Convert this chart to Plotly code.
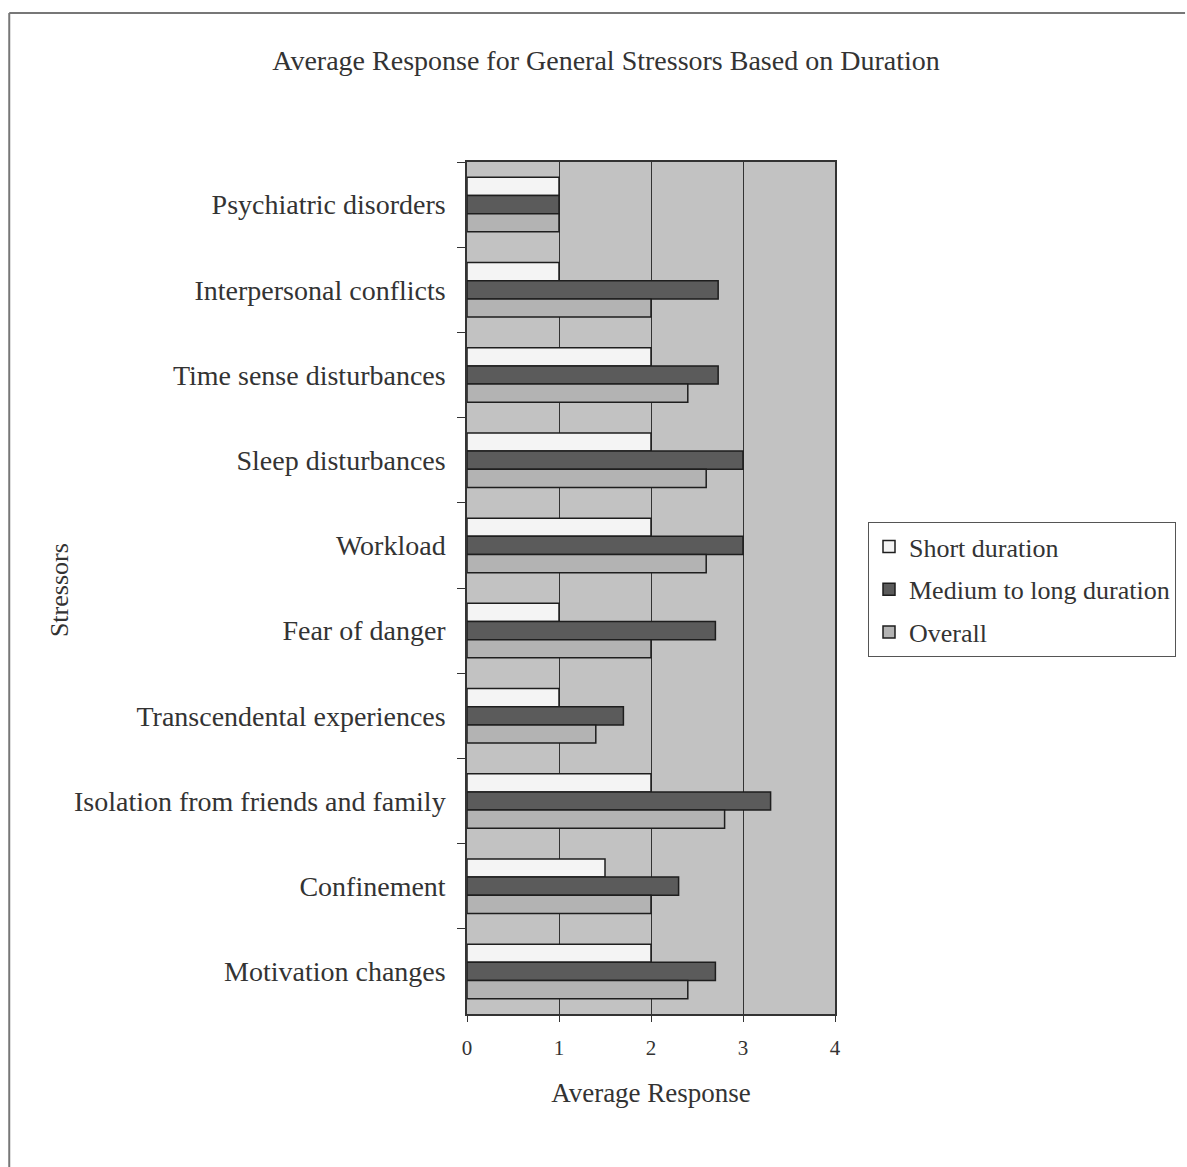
import plotly.graph_objects as go

# Stressor categories, top to bottom
stressors = [
    "Psychiatric disorders",
    "Interpersonal conflicts",
    "Time sense disturbances",
    "Sleep disturbances",
    "Workload",
    "Fear of danger",
    "Transcendental experiences",
    "Isolation from friends and family",
    "Confinement",
    "Motivation changes",
]

short_duration = [1.0, 1.0, 2.0, 2.0, 2.0, 1.0, 1.0, 2.0, 1.5, 2.0]
medium_long_duration = [1.0, 2.73, 2.73, 3.0, 3.0, 2.7, 1.7, 3.3, 2.3, 2.7]
overall = [1.0, 2.0, 2.4, 2.6, 2.6, 2.0, 1.4, 2.8, 2.0, 2.4]

series = [
    ("Short duration", short_duration, "#f4f4f4"),
    ("Medium to long duration", medium_long_duration, "#5b5b5b"),
    ("Overall", overall, "#b3b3b3"),
]

SERIF = "Liberation Serif, Times New Roman, serif"
INK = "#333333"

fig = go.Figure()
for name, vals, color in series:
    fig.add_trace(go.Bar(
        name=name,
        legendgroup=name,
        y=stressors,
        x=vals,
        orientation="h",
        marker=dict(color=color, line=dict(color="#1e1e1e", width=1.5)),
    ))

W, H = 1187, 1167
L, R, T, B = 467, 351, 162, 153
pw, ph = W - L - R, H - T - B

fig.update_layout(
    width=W,
    height=H,
    margin=dict(l=L, r=R, t=T, b=B),
    barmode="group",
    bargap=0.36,
    bargroupgap=0.0,
    paper_bgcolor="white",
    plot_bgcolor="#c2c2c2",
    font=dict(family=SERIF, color=INK, size=26),
    title=dict(
        text="Average Response for General Stressors Based on Duration",
        x=606 / W, xanchor="center",
        y=1 - 60 / H, yanchor="middle",
        font=dict(family=SERIF, size=28, color=INK),
    ),
    legend=dict(
        x=(868 - L) / pw, xanchor="left",
        y=(H - B - 522) / ph, yanchor="top",
        bgcolor="white",
        bordercolor="#555555",
        borderwidth=1,
        font=dict(family=SERIF, size=26, color=INK),
        traceorder="grouped",
        itemwidth=30,
        tracegroupgap=6,
    ),
    showlegend=True,
)

fig.update_xaxes(
    range=[0, 4],
    dtick=1,
    showgrid=True,
    gridcolor="#333333",
    gridwidth=1,
    zeroline=False,
    showline=True,
    linecolor="#333333",
    linewidth=1.5,
    mirror=True,
    ticks="outside",
    ticklen=6,
    tickcolor="#333333",
    ticklabelstandoff=8,
    tickfont=dict(family=SERIF, size=21, color=INK),
    title=dict(text="Average Response", font=dict(family=SERIF, size=27, color=INK), standoff=24),
)

fig.update_yaxes(
    autorange="reversed",
    showgrid=False,
    showline=True,
    linecolor="#333333",
    linewidth=1.5,
    mirror=True,
    ticks="outside",
    tickson="boundaries",
    ticklen=8,
    tickcolor="#333333",
    ticksuffix="  ",
    tickfont=dict(family=SERIF, size=28, color=INK),
)

# Vertical axis title placed in the left margin
fig.add_annotation(
    text="Stressors", textangle=-90,
    xref="paper", yref="paper",
    x=(58 - L) / pw, y=(H - B - 590) / ph,
    xanchor="center", yanchor="middle",
    showarrow=False,
    font=dict(family=SERIF, size=26, color=INK),
)

# Frame lines around the chart (top and left edges)
top_y = (H - B - 13) / ph
left_x = (8 - L) / pw
fig.add_shape(type="line", xref="paper", yref="paper",
              x0=left_x, x1=(W - L) / pw, y0=top_y, y1=top_y,
              line=dict(color="#777777", width=2))
fig.add_shape(type="line", xref="paper", yref="paper",
              x0=left_x, x1=left_x, y0=top_y, y1=-(B) / ph,
              line=dict(color="#777777", width=2))

fig.write_html("out.html")
